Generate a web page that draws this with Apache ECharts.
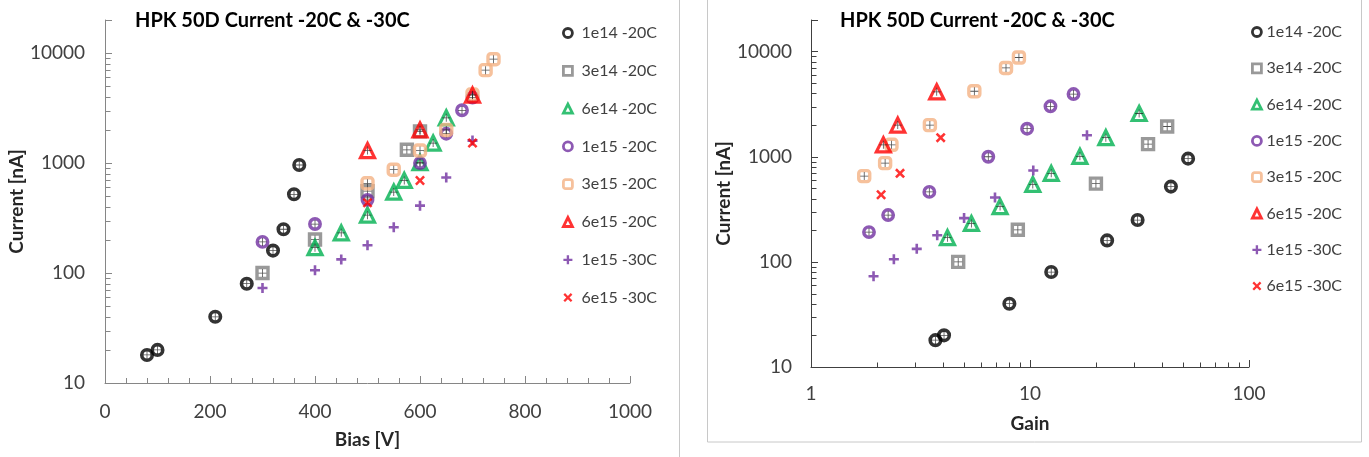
<!DOCTYPE html>
<html><head><meta charset="utf-8">
<script src="https://cdn.jsdelivr.net/npm/echarts@6/dist/echarts.min.js"></script>
<style>html,body{margin:0;padding:0;background:#fff}#c{width:1369px;height:457px}</style>
</head><body><div id="c"></div>
<script>
// ---- data ----
const seriesNames = ['1e14 -20C','3e14 -20C','6e14 -20C','1e15 -20C','3e15 -20C','6e15 -20C','1e15 -30C','6e15 -30C'];
// Bias [V]
const bias_1e14_20 = [80,100,210,270,320,340,360,370];
const bias_3e14_20 = [300,400,500,575,600];
const bias_6e14_20 = [400,450,500,550,570,600,625,650];
const bias_1e15_20 = [300,400,500,600,650,680,700];
const bias_3e15_20 = [500,550,600,650,700,725,740];
const bias_6e15_20 = [500,600,700];
const bias_1e15_30 = [300,400,450,500,550,600,650,700];
const bias_6e15_30 = [500,600,700];
// Gain
const gain_1e14_20 = [3.7,4.05,8.05,12.5,22.5,31,44,52.7];
const gain_3e14_20 = [4.7,8.8,20,34.6,42.3];
const gain_6e14_20 = [4.2,5.4,7.3,10.3,12.5,16.9,22.2,31.5];
const gain_1e15_20 = [1.84,2.25,3.47,6.45,9.7,12.4,15.8];
const gain_3e15_20 = [1.75,2.18,2.33,3.49,5.57,7.77,8.9];
const gain_6e15_20 = [2.14,2.49,3.75];
const gain_1e15_30 = [1.93,2.39,3.04,3.77,5.0,6.92,10.35,18.2];
const gain_6e15_30 = [2.09,2.55,3.91];
// Current [nA]
const cur_1e14_20 = [18,20,40,80,160,250,520,960];
const cur_3e14_20 = [100,202,555,1320,1940];
const cur_6e14_20 = [170,232,336,545,695,1010,1520,2580];
const cur_1e15_20 = [192,279,463,1000,1850,3020,3950];
const cur_3e15_20 = [655,870,1300,2000,4200,7000,8800];
const cur_6e15_20 = [1300,2000,4150];
const cur_1e15_30 = [73,106,133,179,261,410,740,1600];
const cur_6e15_30 = [435,695,1520];
// axis ticks
const biasTicks = [0,200,400,600,800,1000];
const currentMinorTicks = [20,30,40,50,60,70,80,90,200,300,400,500,600,700,800,900,2000,3000,4000,5000,6000,7000,8000,9000];
const gainMinorTicks = [2,3,4,5,6,7,8,9,20,30,40,50,60,70,80,90];

const biasArr = [bias_1e14_20,bias_3e14_20,bias_6e14_20,bias_1e15_20,bias_3e15_20,bias_6e15_20,bias_1e15_30,bias_6e15_30];
const gainArr = [gain_1e14_20,gain_3e14_20,gain_6e14_20,gain_1e15_20,gain_3e15_20,gain_6e15_20,gain_1e15_30,gain_6e15_30];
const curArr = [cur_1e14_20,cur_3e14_20,cur_6e14_20,cur_1e15_20,cur_3e15_20,cur_6e15_20,cur_1e15_30,cur_6e15_30];

// ---- styles ----
const FONT = 'Lato';
const PLUS = 'path://M3.7,0H6.3V3.7H10V6.3H6.3V10H3.7V6.3H0V3.7H3.7Z';
const CROSS = 'path://M0,1.8L1.8,0L5,3.2L8.2,0L10,1.8L6.8,5L10,8.2L8.2,10L5,6.8L1.8,10L0,8.2L3.2,5Z';
const THINPLUS = 'path://M4.5,0H5.5V4.5H10V5.5H5.5V10H4.5V5.5H0V4.5H4.5Z';
const styles = [
  {symbol:'circle', size:10.5, color:'#000000', hollow:true, bw:3.6},
  {symbol:'rect', size:11, color:'#7F7F7F', hollow:true, bw:3.4},
  {symbol:'triangle', size:14, color:'#00B050', hollow:true, bw:3.2},
  {symbol:'circle', size:10.5, color:'#7030A0', hollow:true, bw:3.4},
  {symbol:'roundRect', size:11, color:'#F4B183', hollow:true, bw:3.4},
  {symbol:'triangle', size:14, color:'#FF0000', hollow:true, bw:3.2},
  {symbol:PLUS, size:10, color:'#7030A0', hollow:false},
  {symbol:CROSS, size:10, color:'#FF0000', hollow:false}
];

function logLabel(v){ const l=Math.log10(v); return Math.abs(l-Math.round(l))<1e-6 ? String(Math.round(v)) : ''; }

const series = [];
function addPanel(xArr, gi){
  for(let i=0;i<seriesNames.length;i++){
    const s = styles[i];
    const data = xArr[i].map((x,k)=>[x, curArr[i][k]]);
    series.push({
      name: seriesNames[i], type:'scatter', xAxisIndex:gi, yAxisIndex:gi, data,
      symbol:s.symbol, symbolSize:s.size, z:10+i,
      itemStyle: s.hollow ? {color:'rgba(255,255,255,0)', borderColor:s.color, borderWidth:s.bw} : {color:s.color},
      emphasis:{disabled:true}
    });
    if(s.hollow){
      series.push({
        type:'scatter', xAxisIndex:gi, yAxisIndex:gi, data, symbol:THINPLUS, symbolSize:8, z:10+i,
        itemStyle:{color:'#262626'}, emphasis:{disabled:true}, silent:true
      });
    }
  }
}
addPanel(biasArr, 0);
addPanel(gainArr, 1);

function tickSeries(gi, vals, xmin, dir, len, color){
  return {type:'custom', xAxisIndex:gi, yAxisIndex:gi, silent:true, clip:false, z:2,
    data: vals.map(v => dir==='y' ? [xmin, v] : [v, 10]),
    renderItem:(params, api)=>{
      const p = api.coord([api.value(0), api.value(1)]);
      const x = Math.round(p[0])+0.5, y = Math.round(p[1])+0.5;
      return {type:'line', shape: dir==='y' ? {x1:x,y1:y,x2:x+len,y2:y} : {x1:x,y1:y,x2:x,y2:y-len},
        style:{stroke:color, lineWidth:1}};
    }};
}
const LCOL = '#868686', RCOL = '#404040';
series.push(tickSeries(0, currentMinorTicks, 0, 'y', 5, LCOL));
series.push(tickSeries(1, currentMinorTicks, 1, 'y', 5, RCOL));
series.push(tickSeries(1, gainMinorTicks, 0, 'x', 5, RCOL));

function legendData(){
  return seriesNames.map((n,i)=>{
    const s = styles[i];
    return {name:n, icon:s.symbol,
      itemStyle: s.hollow ? {color:'#fff', borderColor:s.color, borderWidth:2.8} : {color:s.color, borderWidth:0}};
  });
}

const labelStyle = {fontFamily:FONT, fontSize:19, color:'#404040'};
const nameStyle = {fontFamily:FONT, fontSize:19, fontWeight:'bold', color:'#262626'};

const option = {
  animation:false,
  backgroundColor:'#ffffff',
  graphic:[
    {type:'line', shape:{x1:679.5,y1:0,x2:679.5,y2:457}, style:{stroke:'#c8c8c8', lineWidth:1}, z:-1},
    {type:'rect', shape:{x:707.5,y:-5,width:654,height:447}, style:{fill:'none', stroke:'#c8c8c8', lineWidth:1}, z:-1}
  ],
  title:[
    {text:'HPK 50D Current -20C & -30C', left:130, top:6, textStyle:{fontFamily:FONT, fontSize:20, fontWeight:'bold', color:'#000'}},
    {text:'HPK 50D Current -20C & -30C', left:835, top:6, textStyle:{fontFamily:FONT, fontSize:20, fontWeight:'bold', color:'#000'}}
  ],
  legend:[
    {orient:'vertical', left:562, top:25, padding:0, itemWidth:9, itemHeight:9, itemGap:21.8,
      textStyle:{fontFamily:FONT, fontSize:16, color:'#404040', lineHeight:16, padding:[0,0,0,4]}, data:legendData(), selectedMode:false},
    {orient:'vertical', left:1251, top:24, padding:0, itemWidth:9, itemHeight:9, itemGap:20.3,
      textStyle:{fontFamily:FONT, fontSize:16, color:'#404040', lineHeight:16}, data:legendData(), selectedMode:false}
  ],
  grid:[
    {left:105, top:20, width:525, height:363, containLabel:false},
    {left:811, top:20, width:438, height:347, containLabel:false}
  ],
  xAxis:[
    {type:'value', gridIndex:0, min:biasTicks[0], max:biasTicks[biasTicks.length-1], interval:200,
      name:'Bias [V]', nameLocation:'middle', nameGap:47, nameTextStyle:nameStyle,
      axisLine:{lineStyle:{color:LCOL}}, axisTick:{inside:true, length:7, lineStyle:{color:LCOL}},
      minorTick:{show:true, splitNumber:5, length:5, lineStyle:{color:LCOL}},
      splitLine:{show:false}, axisLabel:Object.assign({margin:19, formatter:v=>String(v)}, labelStyle)},
    {type:'log', gridIndex:1, logBase:10, min:1, max:100,
      name:'Gain', nameLocation:'middle', nameGap:47, nameTextStyle:nameStyle,
      axisLine:{lineStyle:{color:RCOL}}, axisTick:{inside:true, length:7, lineStyle:{color:RCOL}},
      splitLine:{show:false}, axisLabel:Object.assign({margin:17, formatter:logLabel}, labelStyle)}
  ],
  yAxis:[
    {type:'log', gridIndex:0, logBase:10, min:10, max:20000,
      name:'Current [nA]', nameLocation:'middle', nameGap:76, nameRotate:90, nameTextStyle:nameStyle,
      axisLine:{lineStyle:{color:LCOL}}, axisTick:{inside:true, length:7, lineStyle:{color:LCOL}},
      splitLine:{show:false}, axisLabel:Object.assign({margin:20, formatter:logLabel}, labelStyle)},
    {type:'log', gridIndex:1, logBase:10, min:10, max:20000,
      name:'Current [nA]', nameLocation:'middle', nameGap:74, nameRotate:90, nameTextStyle:nameStyle,
      axisLine:{lineStyle:{color:RCOL}}, axisTick:{inside:true, length:7, lineStyle:{color:RCOL}},
      splitLine:{show:false}, axisLabel:Object.assign({margin:19, formatter:logLabel}, labelStyle)}
  ],
  series
};
const chart = echarts.init(document.getElementById('c'), null, {renderer:'canvas'});
chart.setOption(option);
</script></body></html>
